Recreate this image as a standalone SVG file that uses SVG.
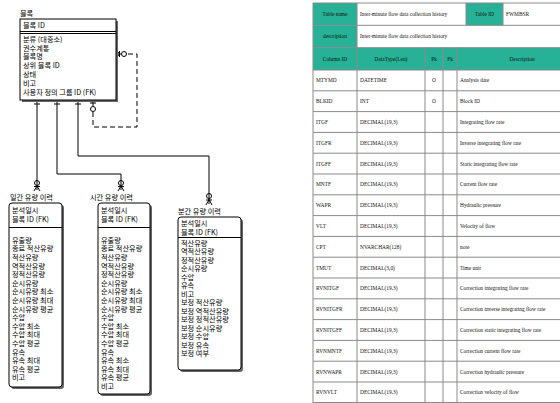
<svg xmlns="http://www.w3.org/2000/svg" width="560" height="403" viewBox="0 0 560 403">
<style>
.k{font-family:"Noto Sans CJK KR","Noto Sans",sans-serif;font-size:7.2px;fill:#000}
.box{fill:#fff;stroke:#000;stroke-width:1}
.sh{fill:#666}
.ln{fill:none;stroke:#000;stroke-width:1}
.dash{fill:none;stroke:#000;stroke-width:1;stroke-dasharray:5,3}
.t{font-family:"Liberation Serif",serif;font-size:5.4px;fill:#111}
.tc{text-anchor:middle}
.teal{fill:#27b196}
.g{stroke:#8a8a8a;stroke-width:1;fill:none}
</style>
<rect width="560" height="403" fill="#fff"/>

<g id="connectors">
<!-- block to daily -->
<path class="ln" d="M37,100 V190"/>
<path class="ln" d="M34,104 H40"/>
<circle class="ln" cx="37" cy="183" r="2.5" fill="#fff"/>
<path class="ln" d="M34,186.5 H40 M37,186 L34,191 M37,186 L40,191"/>
<!-- block to hourly -->
<path class="ln" d="M57,100 V174 H121 V190"/>
<path class="ln" d="M54,104 H60"/>
<circle class="ln" cx="121" cy="183" r="2.5" fill="#fff"/>
<path class="ln" d="M118,186.5 H124 M121,186 L118,191 M121,186 L124,191"/>
<!-- block to minute -->
<path class="ln" d="M78,100 V156 H209 V204"/>
<path class="ln" d="M75,104 H81"/>
<circle class="ln" cx="209" cy="196" r="2.5" fill="#fff"/>
<path class="ln" d="M206,200 H212 M209,199.5 L206,205 M209,199.5 L212,205"/>
<!-- self relation -->
<path class="ln" d="M93,100 V106"/>
<path class="ln" d="M90,103 H96"/>
<circle class="ln" cx="93" cy="109" r="2.5" fill="#fff"/>
<path class="dash" d="M93,112 V127 H137 V54 H127"/>
<circle class="ln" cx="124" cy="54" r="2.5" fill="#fff"/>
<path class="ln" d="M121,54 H116 M120,54 L116,50.5 M120,54 L116,57.5 M119.5,51 V57"/>
</g>

<g id="entity-block">
<text class="k" x="20" y="15.5">블록</text>
<rect class="sh" x="22" y="21" width="96" height="81"/>
<rect class="box" x="20" y="19" width="96" height="81"/>
<text class="k" x="23" y="28">블록 ID</text>
<path class="ln" d="M20,31.5 H116 M20,33.5 H116"/>
<text class="k" x="23" y="41.7">분류 (대중소)</text>
<text class="k" x="23" y="50.5">권수계통</text>
<text class="k" x="23" y="59.3">블록명</text>
<text class="k" x="23" y="68.1">상위 블록 ID</text>
<text class="k" x="23" y="76.9">상태</text>
<text class="k" x="23" y="85.7">비고</text>
<text class="k" x="23" y="94.5">사용자 정의 그룹 ID (FK)</text>
</g>

<g id="entity-daily">
<text class="k" x="10" y="199.7">일간 유량 이력</text>
<rect class="sh" x="11" y="205" width="53" height="184" rx="3"/>
<rect class="box" x="9" y="203" width="53" height="184" rx="3"/>
<text class="k" x="12" y="212.5">분석일시</text>
<text class="k" x="12" y="222">블록 ID (FK)</text>
<path class="ln" d="M9,227.5 H62"/>
<text class="k" x="12" y="242.7">유출량</text>
<text class="k" x="12" y="251.3">종료 적산유량</text>
<text class="k" x="12" y="259.9">적산유량</text>
<text class="k" x="12" y="268.5">역적산유량</text>
<text class="k" x="12" y="277.1">정적산유량</text>
<text class="k" x="12" y="285.7">순시유량</text>
<text class="k" x="12" y="294.3">순시유량 최소</text>
<text class="k" x="12" y="302.9">순시유량 최대</text>
<text class="k" x="12" y="311.5">순시유량 평균</text>
<text class="k" x="12" y="320.1">수압</text>
<text class="k" x="12" y="328.7">수압 최소</text>
<text class="k" x="12" y="337.3">수압 최대</text>
<text class="k" x="12" y="345.9">수압 평균</text>
<text class="k" x="12" y="354.5">유속</text>
<text class="k" x="12" y="363.1">유속 최대</text>
<text class="k" x="12" y="371.7">유속 평균</text>
<text class="k" x="12" y="380.3">비고</text>
</g>

<g id="entity-hourly">
<text class="k" x="90" y="199.7">시간 유량 이력</text>
<rect class="sh" x="100" y="205" width="52" height="191" rx="3"/>
<rect class="box" x="98" y="203" width="52" height="191" rx="3"/>
<text class="k" x="101" y="212.5">분석일시</text>
<text class="k" x="101" y="222">블록 ID (FK)</text>
<path class="ln" d="M98,227.5 H150"/>
<text class="k" x="101" y="242.7">유출량</text>
<text class="k" x="101" y="251.3">종료 적산유량</text>
<text class="k" x="101" y="259.9">적산유량</text>
<text class="k" x="101" y="268.5">역적산유량</text>
<text class="k" x="101" y="277.1">정적산유량</text>
<text class="k" x="101" y="285.7">순시유량</text>
<text class="k" x="101" y="294.3">순시유량 최소</text>
<text class="k" x="101" y="302.9">순시유량 최대</text>
<text class="k" x="101" y="311.5">순시유량 평균</text>
<text class="k" x="101" y="320.1">수압</text>
<text class="k" x="101" y="328.7">수압 최소</text>
<text class="k" x="101" y="337.3">수압 최대</text>
<text class="k" x="101" y="345.9">수압 평균</text>
<text class="k" x="101" y="354.5">유속</text>
<text class="k" x="101" y="363.1">유속 최소</text>
<text class="k" x="101" y="371.7">유속 최대</text>
<text class="k" x="101" y="380.3">유속 평균</text>
<text class="k" x="101" y="388.9">비고</text>
</g>

<g id="entity-minute">
<text class="k" x="178" y="213.7">분간 유량 이력</text>
<rect class="sh" x="180" y="219" width="63" height="153" rx="3"/>
<rect class="box" x="178" y="217" width="63" height="153" rx="3"/>
<text class="k" x="181" y="225.7">분석일시</text>
<text class="k" x="181" y="234.7">블록 ID (FK)</text>
<path class="ln" d="M178,237.5 H241"/>
<text class="k" x="181" y="245.7">적산유량</text>
<text class="k" x="181" y="254.2">역적산유량</text>
<text class="k" x="181" y="262.7">정적산유량</text>
<text class="k" x="181" y="271.2">순시유량</text>
<text class="k" x="181" y="279.7">수압</text>
<text class="k" x="181" y="288.2">유속</text>
<text class="k" x="181" y="296.7">비고</text>
<text class="k" x="181" y="305.2">보정 적산유량</text>
<text class="k" x="181" y="313.7">보정 역적산유량</text>
<text class="k" x="181" y="322.2">보정 정적산유량</text>
<text class="k" x="181" y="330.7">보정 순시유량</text>
<text class="k" x="181" y="339.2">보정 수압</text>
<text class="k" x="181" y="347.7">보정 유속</text>
<text class="k" x="181" y="356.2">보정 여부</text>
</g>

<g id="table">
<!-- teal cells -->
<rect class="teal" x="313" y="3" width="44" height="22.3"/>
<rect class="teal" x="466" y="3" width="37" height="22.3"/>
<rect class="teal" x="313" y="25.3" width="44" height="22.4"/>
<rect class="teal" x="313" y="47.7" width="250" height="22.3"/>
<!-- horizontal lines -->
<path class="g" d="M313,3 H563 M313,25.3 H563 M313,47.7 H563 M313,70 H563
M313,90.8 H563 M313,111.6 H563 M313,132.4 H563 M313,153.2 H563 M313,174 H563 M313,194.8 H563 M313,215.6 H563 M313,236.4 H563 M313,257.2 H563 M313,278 H563 M313,298.8 H563 M313,319.6 H563 M313,340.4 H563 M313,361.2 H563 M313,382 H563 M313,402.5 H563"/>
<!-- vertical lines -->
<path class="g" d="M313,3 V403 M357,3 V403 M466,3 V25.3 M503,3 V25.3 M425,47.7 V403 M443,47.7 V403 M457,47.7 V403"/>
<text class="t tc" x="335" y="16">Table name</text>
<text class="t" x="360" y="16">Inter-minute flow data collection history</text>
<text class="t tc" x="484.5" y="16">Table ID</text>
<text class="t" x="506" y="16">FWMBSR</text>
<text class="t tc" x="335" y="38.3">description</text>
<text class="t" x="360" y="38.3">Inter-minute flow data collection history</text>
<text class="t tc" x="335" y="60.7">Column ID</text>
<text class="t tc" x="391" y="60.7">DataType(Len)</text>
<text class="t tc" x="434" y="60.7">Pk</text>
<text class="t tc" x="450" y="60.7">Fk</text>
<text class="t tc" x="522" y="60.7">Description</text>

<text class="t" x="316" y="82.3">MTYMD</text><text class="t" x="360" y="82.3">DATETIME</text><text class="t tc" x="434" y="82.3">O</text><text class="t" x="460" y="82.3">Analysis date</text>
<text class="t" x="316" y="103.1">BLKID</text><text class="t" x="360" y="103.1">INT</text><text class="t tc" x="434" y="103.1">O</text><text class="t" x="460" y="103.1">Block ID</text>
<text class="t" x="316" y="123.9">ITGF</text><text class="t" x="360" y="123.9">DECIMAL(19,3)</text><text class="t" x="460" y="123.9">Integrating flow rate</text>
<text class="t" x="316" y="144.7">ITGFR</text><text class="t" x="360" y="144.7">DECIMAL(19,3)</text><text class="t" x="460" y="144.7">Inverse integrating flow rate</text>
<text class="t" x="316" y="165.5">ITGFF</text><text class="t" x="360" y="165.5">DECIMAL(19,3)</text><text class="t" x="460" y="165.5">Static integrating flow rate</text>
<text class="t" x="316" y="186.3">MNTF</text><text class="t" x="360" y="186.3">DECIMAL(19,3)</text><text class="t" x="460" y="186.3">Current flow rate</text>
<text class="t" x="316" y="207.1">WAPR</text><text class="t" x="360" y="207.1">DECIMAL(19,3)</text><text class="t" x="460" y="207.1">Hydraulic pressure</text>
<text class="t" x="316" y="227.9">VLT</text><text class="t" x="360" y="227.9">DECIMAL(19,3)</text><text class="t" x="460" y="227.9">Velocity of flow</text>
<text class="t" x="316" y="248.7">CPT</text><text class="t" x="360" y="248.7">NVARCHAR(128)</text><text class="t" x="460" y="248.7">note</text>
<text class="t" x="316" y="269.5">TMUT</text><text class="t" x="360" y="269.5">DECIMAL(3,0)</text><text class="t" x="460" y="269.5">Time unit</text>
<text class="t" x="316" y="290.3">RVNITGF</text><text class="t" x="360" y="290.3">DECIMAL(19,3)</text><text class="t" x="460" y="290.3">Correction integrating flow rate</text>
<text class="t" x="316" y="311.1">RVNITGFR</text><text class="t" x="360" y="311.1">DECIMAL(19,3)</text><text class="t" x="460" y="311.1">Correction inverse integrating flow rate</text>
<text class="t" x="316" y="331.9">RVNITGFF</text><text class="t" x="360" y="331.9">DECIMAL(19,3)</text><text class="t" x="460" y="331.9">Correction static integrating flow rate</text>
<text class="t" x="316" y="352.7">RVNMNTF</text><text class="t" x="360" y="352.7">DECIMAL(19,3)</text><text class="t" x="460" y="352.7">Correction current flow rate</text>
<text class="t" x="316" y="373.5">RVNWAPR</text><text class="t" x="360" y="373.5">DECIMAL(19,3)</text><text class="t" x="460" y="373.5">Correction hydraulic pressure</text>
<text class="t" x="316" y="394.3">RVNVLT</text><text class="t" x="360" y="394.3">DECIMAL(19,3)</text><text class="t" x="460" y="394.3">Correction velocity of flow</text>
</g>
</svg>
